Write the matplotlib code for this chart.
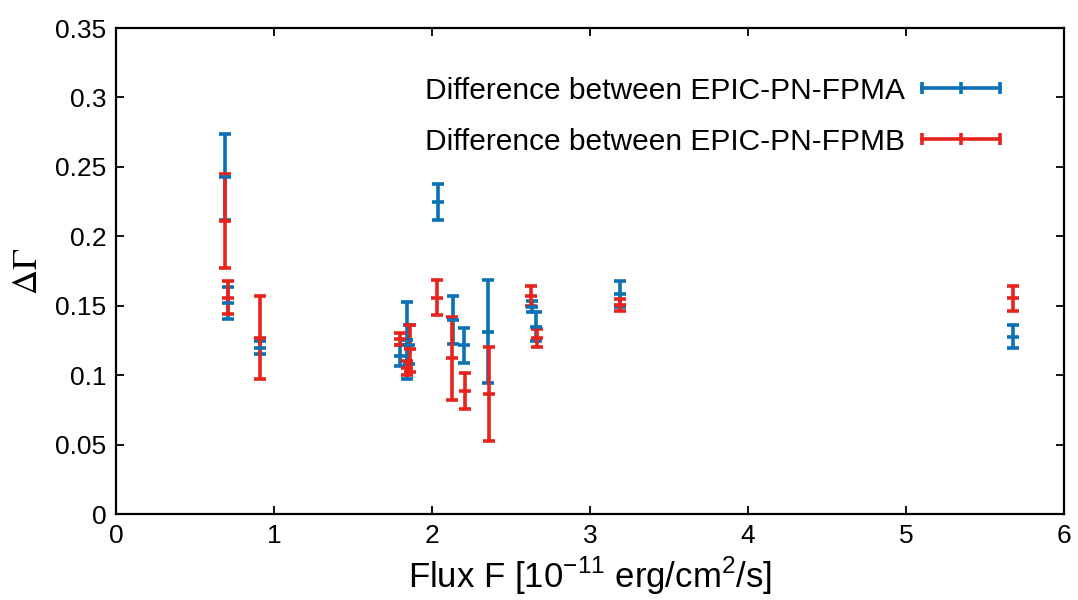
import matplotlib
matplotlib.use("Agg")
import matplotlib.pyplot as plt
from matplotlib.lines import Line2D

plt.rcParams['font.family'] = ['Liberation Sans', 'DejaVu Sans']

# Difference between EPIC-PN and FPMA
flux_a = [0.69, 0.71, 0.913, 1.80, 1.842, 1.855, 2.035, 2.13, 2.204, 2.354, 2.63, 2.66, 3.19, 5.677]
dgam_a = [0.2425, 0.1517, 0.1198, 0.114, 0.125, 0.122, 0.225, 0.1397, 0.1217, 0.1313, 0.1493, 0.135, 0.1584, 0.1275]
err_a = [0.031, 0.0115, 0.0046, 0.0075, 0.028, 0.014, 0.013, 0.0174, 0.0126, 0.0369, 0.004, 0.0105, 0.0095, 0.0083]

# Difference between EPIC-PN and FPMB
flux_b = [0.69, 0.71, 0.913, 1.797, 1.84, 1.861, 2.03, 2.127, 2.209, 2.361, 2.624, 2.667, 3.19, 5.68]
dgam_b = [0.211, 0.1558, 0.127, 0.126, 0.105, 0.119, 0.1558, 0.112, 0.0886, 0.0866, 0.157, 0.1265, 0.1505, 0.1555]
err_b = [0.0335, 0.012, 0.030, 0.0045, 0.005, 0.017, 0.0125, 0.030, 0.013, 0.034, 0.007, 0.0065, 0.0045, 0.009]

labels = ["Difference between EPIC-PN-FPMA", "Difference between EPIC-PN-FPMB"]
blue = '#0a71b4'
red = '#e8231c'

fig = plt.figure(figsize=(10.78, 6), dpi=100)
ax = fig.add_axes([116 / 1078, 86 / 600, 948 / 1078, 486 / 600])

for x, y, e, c in [(flux_a, dgam_a, err_a, blue), (flux_b, dgam_b, err_b, red)]:
    ax.errorbar(x, y, yerr=e, fmt='_', color=c, ecolor=c, elinewidth=2.6,
                capsize=4.3, capthick=2.6, markersize=8.5, mew=2.6)

ax.set_xlim(0, 6)
ax.set_ylim(0, 0.35)
ax.set_xticks(range(7))
ax.set_yticks([0, 0.05, 0.1, 0.15, 0.2, 0.25, 0.3, 0.35])
ax.set_yticklabels(["0", "0.05", "0.1", "0.15", "0.2", "0.25", "0.3", "0.35"])
ax.tick_params(direction='in', length=6, width=1.3, labelsize=19, top=True, right=True, pad=7)
for s in ax.spines.values():
    s.set_linewidth(1.6)

ax.set_xlabel(r'Flux F [10$^{\mathregular{-11}}$ erg/cm$^{\mathregular{2}}$/s]', fontsize=25, labelpad=5)
ax.set_ylabel(r'$\Delta\Gamma$', fontsize=25, math_fontfamily='stix', labelpad=8)

handles = [Line2D([], [], color=c, lw=2.6, marker='|', markersize=9, mew=2.6) for c in (blue, red)]
ax.legend(handles, labels, loc='upper right', bbox_to_anchor=(0.942, 0.9), frameon=False,
          fontsize=21.5, numpoints=3, markerfirst=False, handlelength=3.21, handletextpad=0.27,
          labelspacing=0.77, borderpad=0, borderaxespad=0)

fig.savefig("out.png", dpi=100)
